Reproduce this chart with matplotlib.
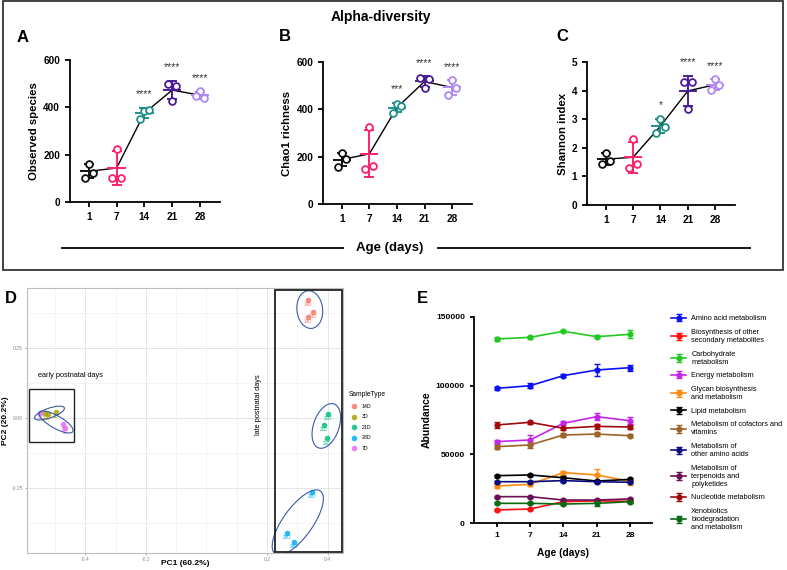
import numpy as np
import matplotlib
matplotlib.use("Agg")
import matplotlib.pyplot as plt
from matplotlib.patches import Ellipse, Rectangle
from matplotlib.lines import Line2D

plt.rcParams['font.family'] = ['Liberation Sans', 'DejaVu Sans']

# ---- alpha diversity (3 animals per age) ----
ages = ['1', '7', '14', '21', '28']
age_colors = ['#111111', '#ff1f6e', '#1f8f88', '#4b1c95', '#b088f5']

observed = [[162, 124, 103], [225, 103, 103], [386, 390, 351], [428, 492, 499], [468, 438, 448]]
chao1 = [[214, 192, 157], [326, 160, 150], [424, 413, 385], [492, 527, 534], [523, 492, 462]]
shannon = [[1.83, 1.55, 1.43], [2.29, 1.43, 1.28], [3.02, 2.73, 2.52], [3.37, 4.30, 4.30], [4.40, 4.19, 4.03]]

stars_obs = ['', '', '****', '****', '****']
stars_chao = ['', '', '***', '****', '****']
stars_shan = ['', '', '*', '****', '****']

# ---- PCA ----
pca_groups = ['14D', '3D', '21D', '28D', '7D']
pca_colors = ['#F8766D', '#A3A500', '#00BF7D', '#00B0F6', '#E76BF3']
pc1 = [[0.336, 0.352, 0.336],
       [-0.535, -0.523, -0.498],
       [0.403, 0.388, 0.397],
       [0.348, 0.267, 0.290],
       [-0.550, -0.473, -0.468]]
pc2 = [[0.421, 0.379, 0.361],
       [0.018, 0.013, 0.022],
       [0.013, -0.025, -0.073],
       [-0.263, -0.412, -0.444],
       [0.017, -0.023, -0.037]]

# ---- KEGG pathway abundance ----
days = ['1', '7', '14', '21', '28']
pathways = ['Amino acid metabolism',
            'Biosynthesis of other\nsecondary metabolites',
            'Carbohydrate\nmetabolism',
            'Energy metabolism',
            'Glycan biosynthesis\nand metabolism',
            'Lipid metabolism',
            'Metabolism of cofactors and\nvitamins',
            'Metabolism of\nother amino acids',
            'Metabolism of\nterpenoids and\npolyketides',
            'Nucleotide metabolism',
            'Xenobiotics\nbiodegradation\nand metabolism']
path_colors = ['#0a10f5', '#ff1010', '#22c822', '#c425ea', '#ff8a10', '#000000',
               '#9c6428', '#0a0a80', '#6a0f55', '#a00a0a', '#0a6a12']
abundance = [[98000, 99900, 107200, 111300, 113000],
             [9700, 10400, 15700, 16300, 16000],
             [133800, 135000, 139400, 135500, 137200],
             [59300, 60500, 72600, 77400, 74500],
             [27100, 28300, 36800, 35100, 30500],
             [34600, 35100, 33100, 30700, 31900],
             [55600, 56900, 64100, 64800, 63600],
             [30200, 30200, 31000, 30200, 29800],
             [19350, 19350, 16900, 16900, 17700],
             [71400, 73300, 69000, 70400, 69900],
             [14500, 14500, 14000, 14500, 15700]]
abundance_err = [[1200, 2000, 1200, 4000, 2200],
                 [800, 900, 900, 900, 900],
                 [1200, 1000, 800, 1200, 3000],
                 [1500, 3800, 1500, 2500, 2500],
                 [1200, 1500, 1500, 4500, 2500],
                 [800, 900, 900, 900, 900],
                 [1500, 2200, 1200, 1500, 1200],
                 [700, 700, 800, 800, 800],
                 [800, 800, 800, 800, 800],
                 [2000, 1200, 1200, 2000, 1200],
                 [700, 700, 800, 1800, 800]]

fig = plt.figure(figsize=(7.87, 5.70), dpi=100)

# frame around alpha-diversity panels
fig.add_artist(Rectangle((0.004, 0.526), 0.991, 0.472, transform=fig.transFigure,
                         fill=False, lw=1.2, color='#222222'))
fig.text(0.484, 0.970, 'Alpha-diversity', ha='center', va='center', fontsize=10, fontweight='bold')
fig.add_artist(Line2D([62 / 787, 343 / 787], [0.565, 0.565], color='black', lw=1.3))
fig.add_artist(Line2D([438 / 787, 750 / 787], [0.565, 0.565], color='black', lw=1.3))
fig.text(0.4956, 0.565, 'Age (days)', ha='center', va='center', fontsize=9.5, fontweight='bold')


def alpha_panel(rect, data, stars, ylabel, ymax, step, letter, letter_xy):
    ax = fig.add_axes(rect)
    offs = [0.0, 0.15, -0.15]
    means = []
    for i, vals in enumerate(data):
        vals = np.array(vals, dtype=float)
        m = vals.mean()
        sd = vals.std(ddof=1)
        means.append(m)
        c = age_colors[i]
        ax.hlines(m, i - 0.33, i + 0.33, color=c, lw=1.4, zorder=3)
        ax.errorbar(i, m, yerr=sd, color=c, lw=1.4, capsize=3.6, capthick=1.4, zorder=3)
        ax.scatter(i + np.array(offs), vals, s=24, facecolors='white', edgecolors=c,
                   linewidths=1.3, zorder=4)
        if stars[i]:
            top = max(vals.max(), m + sd)
            ax.text(i, top + 0.06 * ymax, stars[i], ha='center', va='bottom', fontsize=7.5,
                    color='#333333')
    ax.plot(range(len(means)), means, color='black', lw=1.0, zorder=2)
    ax.set_xlim(-0.68, 4.72)
    ax.set_ylim(0, ymax)
    ax.set_yticks(np.arange(0, ymax + step / 2, step))
    ax.set_xticks(range(5))
    ax.set_xticklabels(ages)
    for sp in ['top', 'right']:
        ax.spines[sp].set_visible(False)
    for sp in ['left', 'bottom']:
        ax.spines[sp].set_linewidth(1.3)
    ax.tick_params(width=1.3, length=3.5, labelsize=7.2)
    for lab in ax.get_xticklabels() + ax.get_yticklabels():
        lab.set_fontweight('bold')
    ax.set_ylabel(ylabel, fontsize=8.2, fontweight='bold', labelpad=3)
    fig.text(letter_xy[0], letter_xy[1], letter, fontsize=12, fontweight='bold',
             ha='center', va='center')
    return ax


alpha_panel([0.0889, 0.6456, 0.1906, 0.2491], observed, stars_obs, 'Observed species',
            600, 200, 'A', (0.029, 0.935))
alpha_panel([0.4104, 0.6421, 0.1893, 0.2491], chao1, stars_chao, 'Chao1 richness',
            600, 200, 'B', (0.362, 0.936))
alpha_panel([0.7459, 0.6404, 0.1880, 0.2508], shannon, stars_shan, 'Shannon index',
            5, 1, 'C', (0.715, 0.936))

# ---- panel D: PCA ----
axd = fig.add_axes([0.0343, 0.0298, 0.4015, 0.4649])
axd.set_xlim(-0.593, 0.451)
axd.set_ylim(-0.482, 0.464)
axd.set_xticks([-0.4, -0.2, 0.2, 0.4])
axd.set_xticklabels(['-0.4', '-0.2', '0.2', '0.4'])
axd.set_yticks([-0.25, 0.0, 0.25])
axd.set_yticklabels(['-0.25', '0.00', '0.25'])
axd.set_xticks([-0.5, -0.3, -0.1, 0.0, 0.1, 0.3], minor=True)
axd.set_yticks([-0.375, -0.125, 0.125, 0.375], minor=True)
axd.grid(True, which='major', color='#e6e6e6', lw=0.7)
axd.grid(True, which='minor', color='#f0f0f0', lw=0.5)
axd.set_axisbelow(True)
for sp in axd.spines.values():
    sp.set_color('#bdbdbd')
    sp.set_linewidth(0.8)
axd.tick_params(which='major', labelsize=3.6, colors='#888888', length=1.5, width=0.5, pad=1.5)
axd.tick_params(which='minor', length=0)
axd.set_xlabel('PC1 (60.2%)', fontsize=6, fontweight='bold', labelpad=0)
axd.set_ylabel('PC2 (20.2%)', fontsize=6, fontweight='bold', labelpad=2)
axd.xaxis.set_label_coords(0.5, -0.026)

ell_w = [0.085, 0.105, 0.085, 0.27, 0.13]
ell_h = [0.135, 0.034, 0.165, 0.10, 0.044]
ell_ang = [5, 21, -17, 57, -32]
handles = []
for g, name in enumerate(pca_groups):
    xs, ys = np.array(pc1[g]), np.array(pc2[g])
    h = axd.scatter(xs, ys, s=16, color=pca_colors[g], alpha=0.85, lw=0, zorder=3, label=name)
    handles.append(h)
    for x, y in zip(xs, ys):
        axd.annotate(name, (x, y), xytext=(0, -1.5), textcoords='offset points',
                     ha='center', va='top', fontsize=3.3, color=pca_colors[g], zorder=4)
    axd.add_patch(Ellipse((xs.mean(), ys.mean()), ell_w[g], ell_h[g], angle=ell_ang[g],
                          fill=False, ec='#3a5aa8', lw=0.8, zorder=5))

axd.add_patch(Rectangle((-0.586, -0.085), 0.148, 0.1875, fill=False, ec='#222222', lw=1.0, zorder=6))
axd.add_patch(Rectangle((0.227, -0.480), 0.220, 0.937, fill=False, ec='#222222', lw=1.3, zorder=6))
axd.text(-0.556, 0.151, 'early postnatal days', fontsize=5.3, va='center', ha='left')
axd.text(0.171, 0.046, 'late postnatal days', fontsize=5.3, va='center', ha='center', rotation=90)

leg_d = axd.legend(handles=handles, title='SampleType', loc='upper left',
                   bbox_to_anchor=(0.4435, 0.314), bbox_transform=fig.transFigure,
                   frameon=False, fontsize=3.8, title_fontsize=4.8, labelspacing=1.05,
                   handletextpad=0.4, borderpad=0, borderaxespad=0, alignment='left',
                   markerscale=1.0)
fig.text(0.006, 0.477, 'D', fontsize=12, fontweight='bold', ha='left', va='center')

# ---- panel E: pathway abundance ----
axe = fig.add_axes([0.6023, 0.0819, 0.2258, 0.3625])
xpos = np.arange(len(days))
lines = []
for k, name in enumerate(pathways):
    ln = axe.errorbar(xpos, abundance[k], yerr=abundance_err[k], color=path_colors[k],
                      marker='o', ms=3.4, lw=1.2, capsize=2.2, capthick=1.0, elinewidth=1.0,
                      label=name)
    lines.append(ln)
axe.set_xlim(-0.68, 4.65)
axe.set_ylim(0, 150000)
axe.set_yticks([0, 50000, 100000, 150000])
axe.set_xticks(xpos)
axe.set_xticklabels(days)
for sp in ['top', 'right']:
    axe.spines[sp].set_visible(False)
for sp in ['left', 'bottom']:
    axe.spines[sp].set_linewidth(1.3)
axe.tick_params(width=1.3, length=3, labelsize=6.1)
for lab in axe.get_xticklabels() + axe.get_yticklabels():
    lab.set_fontweight('bold')
axe.set_ylabel('Abundance', fontsize=7.5, fontweight='bold', labelpad=3)
axe.set_xlabel('Age (days)', fontsize=7.3, fontweight='bold', labelpad=6)
axe.legend(handles=lines, loc='upper left', bbox_to_anchor=(0.853, 0.447),
           bbox_transform=fig.transFigure, frameon=False, fontsize=5.3,
           handlelength=2.0, handletextpad=0.7, labelspacing=0.9, borderpad=0,
           borderaxespad=0)
fig.text(0.537, 0.477, 'E', fontsize=12, fontweight='bold', ha='center', va='center')

fig.savefig('out.png', dpi=100)
